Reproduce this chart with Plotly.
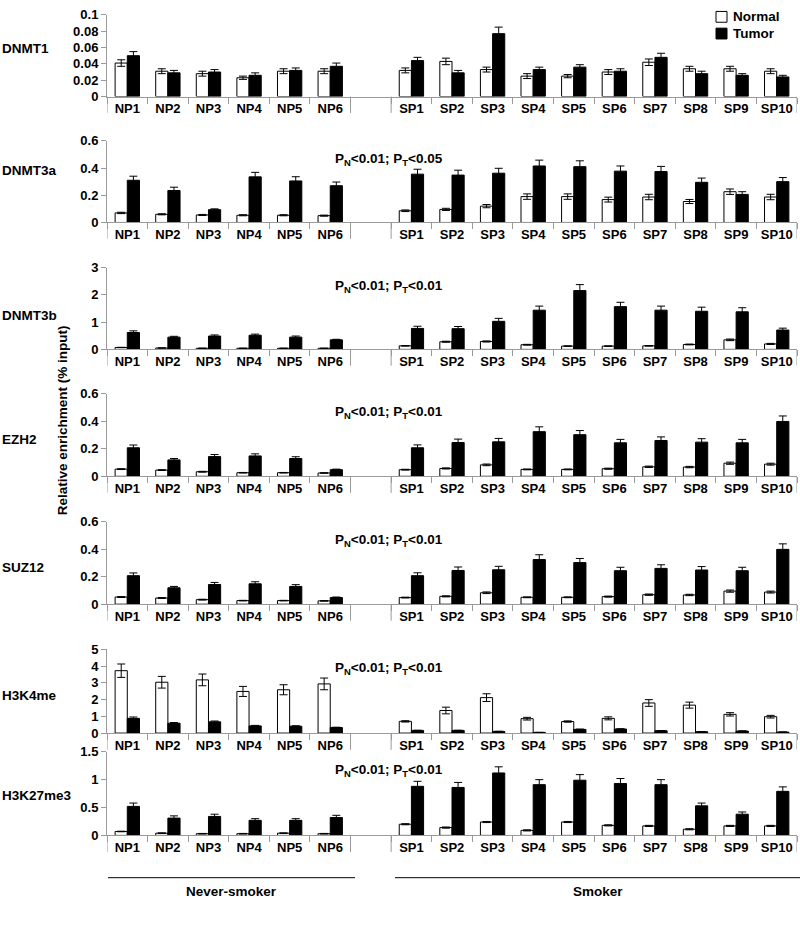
import plotly.graph_objects as go

cats_np = ["NP1", "NP2", "NP3", "NP4", "NP5", "NP6"]
cats_sp = ["SP1", "SP2", "SP3", "SP4", "SP5", "SP6", "SP7", "SP8", "SP9", "SP10"]
gap_cat = " "
samples = cats_np + cats_sp
axis_cats = cats_np + [gap_cat] + cats_sp

panel_names = ["DNMT1", "DNMT3a", "DNMT3b", "EZH2", "SUZ12", "H3K4me", "H3K27me3"]
legend_names = ["Normal", "Tumor"]

dnmt1_normal = [0.041, 0.031, 0.028, 0.023, 0.031, 0.031, 0.032, 0.043, 0.033, 0.025, 0.025, 0.030, 0.042, 0.034, 0.034, 0.031]
dnmt1_normal_err = [0.004, 0.003, 0.003, 0.002, 0.003, 0.003, 0.003, 0.004, 0.003, 0.003, 0.002, 0.003, 0.004, 0.003, 0.003, 0.003]
dnmt1_tumor = [0.050, 0.029, 0.030, 0.026, 0.032, 0.037, 0.044, 0.029, 0.077, 0.033, 0.036, 0.031, 0.048, 0.028, 0.026, 0.024]
dnmt1_tumor_err = [0.005, 0.003, 0.003, 0.003, 0.003, 0.004, 0.004, 0.003, 0.008, 0.003, 0.003, 0.003, 0.005, 0.003, 0.002, 0.002]

dnmt3a_normal = [0.07, 0.06, 0.055, 0.053, 0.053, 0.05, 0.086, 0.096, 0.12, 0.19, 0.19, 0.168, 0.187, 0.154, 0.226, 0.187]
dnmt3a_normal_err = [0.005, 0.004, 0.004, 0.004, 0.004, 0.004, 0.006, 0.008, 0.012, 0.02, 0.02, 0.018, 0.02, 0.015, 0.02, 0.02]
dnmt3a_tumor = [0.31, 0.235, 0.094, 0.335, 0.305, 0.27, 0.355, 0.348, 0.362, 0.415, 0.41, 0.377, 0.374, 0.295, 0.206, 0.30]
dnmt3a_tumor_err = [0.03, 0.024, 0.006, 0.033, 0.031, 0.027, 0.036, 0.036, 0.036, 0.043, 0.043, 0.038, 0.038, 0.031, 0.02, 0.03]

dnmt3b_normal = [0.07, 0.05, 0.04, 0.04, 0.04, 0.04, 0.13, 0.28, 0.29, 0.17, 0.12, 0.12, 0.13, 0.18, 0.35, 0.2]
dnmt3b_normal_err = [0.005, 0.005, 0.005, 0.005, 0.005, 0.005, 0.01, 0.02, 0.02, 0.015, 0.01, 0.01, 0.01, 0.015, 0.03, 0.02]
dnmt3b_tumor = [0.62, 0.45, 0.49, 0.52, 0.45, 0.35, 0.77, 0.76, 1.03, 1.44, 2.16, 1.57, 1.44, 1.40, 1.38, 0.71]
dnmt3b_tumor_err = [0.06, 0.03, 0.04, 0.04, 0.04, 0.02, 0.08, 0.08, 0.11, 0.15, 0.22, 0.16, 0.15, 0.15, 0.15, 0.07]

ezh2_normal = [0.052, 0.045, 0.033, 0.026, 0.026, 0.024, 0.048, 0.057, 0.083, 0.05, 0.05, 0.055, 0.069, 0.067, 0.095, 0.088]
ezh2_normal_err = [0.003, 0.003, 0.003, 0.002, 0.002, 0.002, 0.003, 0.004, 0.006, 0.003, 0.003, 0.004, 0.005, 0.005, 0.008, 0.007]
ezh2_tumor = [0.207, 0.119, 0.143, 0.148, 0.129, 0.048, 0.207, 0.245, 0.25, 0.324, 0.302, 0.243, 0.26, 0.248, 0.243, 0.398]
ezh2_tumor_err = [0.02, 0.01, 0.015, 0.015, 0.013, 0.004, 0.021, 0.025, 0.025, 0.035, 0.03, 0.025, 0.026, 0.025, 0.025, 0.04]

suz12_normal = [0.052, 0.045, 0.033, 0.026, 0.026, 0.024, 0.048, 0.057, 0.083, 0.05, 0.05, 0.055, 0.069, 0.067, 0.095, 0.088]
suz12_normal_err = [0.003, 0.003, 0.003, 0.002, 0.002, 0.002, 0.003, 0.004, 0.006, 0.003, 0.003, 0.004, 0.005, 0.005, 0.008, 0.007]
suz12_tumor = [0.207, 0.119, 0.143, 0.148, 0.129, 0.048, 0.207, 0.245, 0.25, 0.324, 0.302, 0.243, 0.26, 0.248, 0.243, 0.398]
suz12_tumor_err = [0.02, 0.01, 0.015, 0.015, 0.013, 0.004, 0.021, 0.025, 0.025, 0.035, 0.03, 0.025, 0.026, 0.025, 0.025, 0.04]

h3k4me_normal = [3.73, 3.04, 3.18, 2.49, 2.59, 2.94, 0.70, 1.35, 2.12, 0.86, 0.69, 0.88, 1.80, 1.67, 1.12, 0.98]
h3k4me_normal_err = [0.40, 0.35, 0.35, 0.30, 0.30, 0.35, 0.04, 0.20, 0.23, 0.08, 0.04, 0.09, 0.20, 0.18, 0.10, 0.08]
h3k4me_tumor = [0.88, 0.59, 0.67, 0.43, 0.41, 0.33, 0.16, 0.16, 0.10, 0.04, 0.22, 0.24, 0.14, 0.08, 0.12, 0.06]
h3k4me_tumor_err = [0.08, 0.04, 0.05, 0.03, 0.03, 0.02, 0.01, 0.01, 0.01, 0.005, 0.02, 0.02, 0.01, 0.01, 0.01, 0.005]

h3k27me3_normal = [0.07, 0.04, 0.03, 0.03, 0.04, 0.03, 0.20, 0.14, 0.24, 0.09, 0.24, 0.18, 0.17, 0.11, 0.17, 0.17]
h3k27me3_normal_err = [0.005, 0.005, 0.005, 0.005, 0.005, 0.005, 0.01, 0.01, 0.01, 0.01, 0.01, 0.01, 0.01, 0.01, 0.01, 0.01]
h3k27me3_tumor = [0.52, 0.31, 0.34, 0.27, 0.27, 0.32, 0.88, 0.86, 1.12, 0.91, 0.99, 0.93, 0.91, 0.53, 0.38, 0.79]
h3k27me3_tumor_err = [0.06, 0.04, 0.04, 0.03, 0.03, 0.04, 0.09, 0.09, 0.11, 0.09, 0.10, 0.09, 0.09, 0.05, 0.04, 0.08]

y_max = [0.1, 0.6, 3, 0.6, 0.6, 5, 1.5]
y_dtick = [0.02, 0.2, 1, 0.2, 0.2, 1, 0.5]
p_texts = [None,
           "P<sub>N</sub><0.01; P<sub>T</sub><0.05",
           "P<sub>N</sub><0.01; P<sub>T</sub><0.01",
           "P<sub>N</sub><0.01; P<sub>T</sub><0.01",
           "P<sub>N</sub><0.01; P<sub>T</sub><0.01",
           "P<sub>N</sub><0.01; P<sub>T</sub><0.01",
           "P<sub>N</sub><0.01; P<sub>T</sub><0.01"]

series = [
    (dnmt1_normal, dnmt1_normal_err, dnmt1_tumor, dnmt1_tumor_err),
    (dnmt3a_normal, dnmt3a_normal_err, dnmt3a_tumor, dnmt3a_tumor_err),
    (dnmt3b_normal, dnmt3b_normal_err, dnmt3b_tumor, dnmt3b_tumor_err),
    (ezh2_normal, ezh2_normal_err, ezh2_tumor, ezh2_tumor_err),
    (suz12_normal, suz12_normal_err, suz12_tumor, suz12_tumor_err),
    (h3k4me_normal, h3k4me_normal_err, h3k4me_tumor, h3k4me_tumor_err),
    (h3k27me3_normal, h3k27me3_normal_err, h3k27me3_tumor, h3k27me3_tumor_err),
]

W, H = 800, 928
FONT = "Liberation Sans Narrow, Arial Narrow, Liberation Sans, Arial, sans-serif"
AXC = "#9a9a9a"
panel_tops = [8, 136, 265, 393, 523, 653, 757]
panel_hs = [83, 83, 83, 84, 84, 85, 85]
label_ys = [42, 166, 314, 440, 570, 700, 801]
x_dom = [107 / W, 797 / W]


def bold(size):
    return dict(family=FONT, size=size, color="black", weight="bold")


fig = go.Figure()
layout = dict(
    width=W, height=H, margin=dict(l=0, r=0, t=0, b=0),
    paper_bgcolor="white", plot_bgcolor="white",
    barmode="group", bargap=0.4, bargroupgap=0.0,
    font=bold(12), showlegend=False,
)
annotations = []
shapes = []

for i, (nv, ne, tv, te) in enumerate(series):
    k = "" if i == 0 else str(i + 1)
    xa, ya = "x" + k, "y" + k
    fig.add_trace(go.Bar(
        x=samples, y=nv, name=legend_names[0], xaxis=xa, yaxis=ya,
        marker=dict(color="white", line=dict(color="black", width=1)),
        error_y=dict(type="data", array=ne, color="black", thickness=1, width=4),
        offsetgroup="n"))
    fig.add_trace(go.Bar(
        x=samples, y=tv, name=legend_names[1], xaxis=xa, yaxis=ya,
        marker=dict(color="black", line=dict(color="black", width=1)),
        error_y=dict(type="data", array=te, color="black", thickness=1, width=4),
        offsetgroup="t"))
    top = panel_tops[i]
    dom = [1 - (top + panel_hs[i]) / H, 1 - top / H]
    layout["xaxis" + k] = dict(
        domain=x_dom, anchor=ya, type="category",
        categoryorder="array", categoryarray=axis_cats, range=[-0.5, 16.5],
        showline=True, linecolor=AXC, linewidth=1, ticks="outside",
        tickson="boundaries", ticklen=6, tickcolor=AXC, showgrid=False,
        tickangle=0, tickfont=bold(13), fixedrange=True)
    layout["yaxis" + k] = dict(
        domain=dom, anchor=xa, range=[0, y_max[i]], dtick=y_dtick[i], tick0=0,
        showline=True, linecolor=AXC, linewidth=1, ticks="outside",
        ticklen=5, tickcolor=AXC, showgrid=False, zeroline=False,
        tickfont=bold(13), fixedrange=True)
    annotations.append(dict(
        text=panel_names[i], xref="paper", yref="paper", x=0, y=1 - label_ys[i] / H,
        xanchor="left", yanchor="middle", showarrow=False, font=bold(13.5)))
    if p_texts[i]:
        annotations.append(dict(
            text=p_texts[i], xref=xa, yref=ya + " domain", x=6.45, y=0.77,
            xanchor="center", yanchor="middle", showarrow=False, font=bold(13.5)))
    for xb in [-0.5, 5.5, 6.5, 16.5]:
        shapes.append(dict(type="line", xref=xa, yref=ya + " domain",
                           x0=xb, x1=xb, y0=-0.2, y1=0,
                           line=dict(color=AXC, width=1)))

# legend (drawn as boxes and labels)
leg_rows = [(10, "white"), (27, "black")]
for (yc, col), name in zip(leg_rows, legend_names):
    shapes.append(dict(type="rect", xref="paper", yref="paper",
                       x0=716 / W, x1=727 / W, y0=1 - (yc + 5.5) / H, y1=1 - (yc - 5.5) / H,
                       fillcolor=col, line=dict(color="black", width=1)))
    annotations.append(dict(text=name, xref="paper", yref="paper",
                            x=731 / W, y=1 - yc / H, xanchor="left", yanchor="middle",
                            showarrow=False, font=bold(13.5)))

annotations.append(dict(
    text="Relative enrichment (% input)", xref="paper", yref="paper",
    x=62 / W, y=1 - 420 / H, textangle=-90, xanchor="center", yanchor="middle",
    showarrow=False, font=bold(13.5)))

line_y = 1 - 885 / H
shapes.append(dict(type="line", xref="paper", yref="paper", x0=108 / W, x1=355 / W,
                   y0=line_y, y1=line_y, line=dict(color="black", width=1)))
shapes.append(dict(type="line", xref="paper", yref="paper", x0=395 / W, x1=800 / W,
                   y0=line_y, y1=line_y, line=dict(color="black", width=1)))
annotations.append(dict(text="Never-smoker", xref="paper", yref="paper",
                        x=232 / W, y=1 - 899 / H, xanchor="center", yanchor="middle",
                        showarrow=False, font=bold(13.5)))
annotations.append(dict(text="Smoker", xref="paper", yref="paper",
                        x=598 / W, y=1 - 899 / H, xanchor="center", yanchor="middle",
                        showarrow=False, font=bold(13.5)))

layout["annotations"] = annotations
layout["shapes"] = shapes
fig.update_layout(**layout)
fig.write_html("out.html", config={"displayModeBar": False, "staticPlot": True},
               post_script="document.body.style.margin='0';document.body.style.padding='0';")
